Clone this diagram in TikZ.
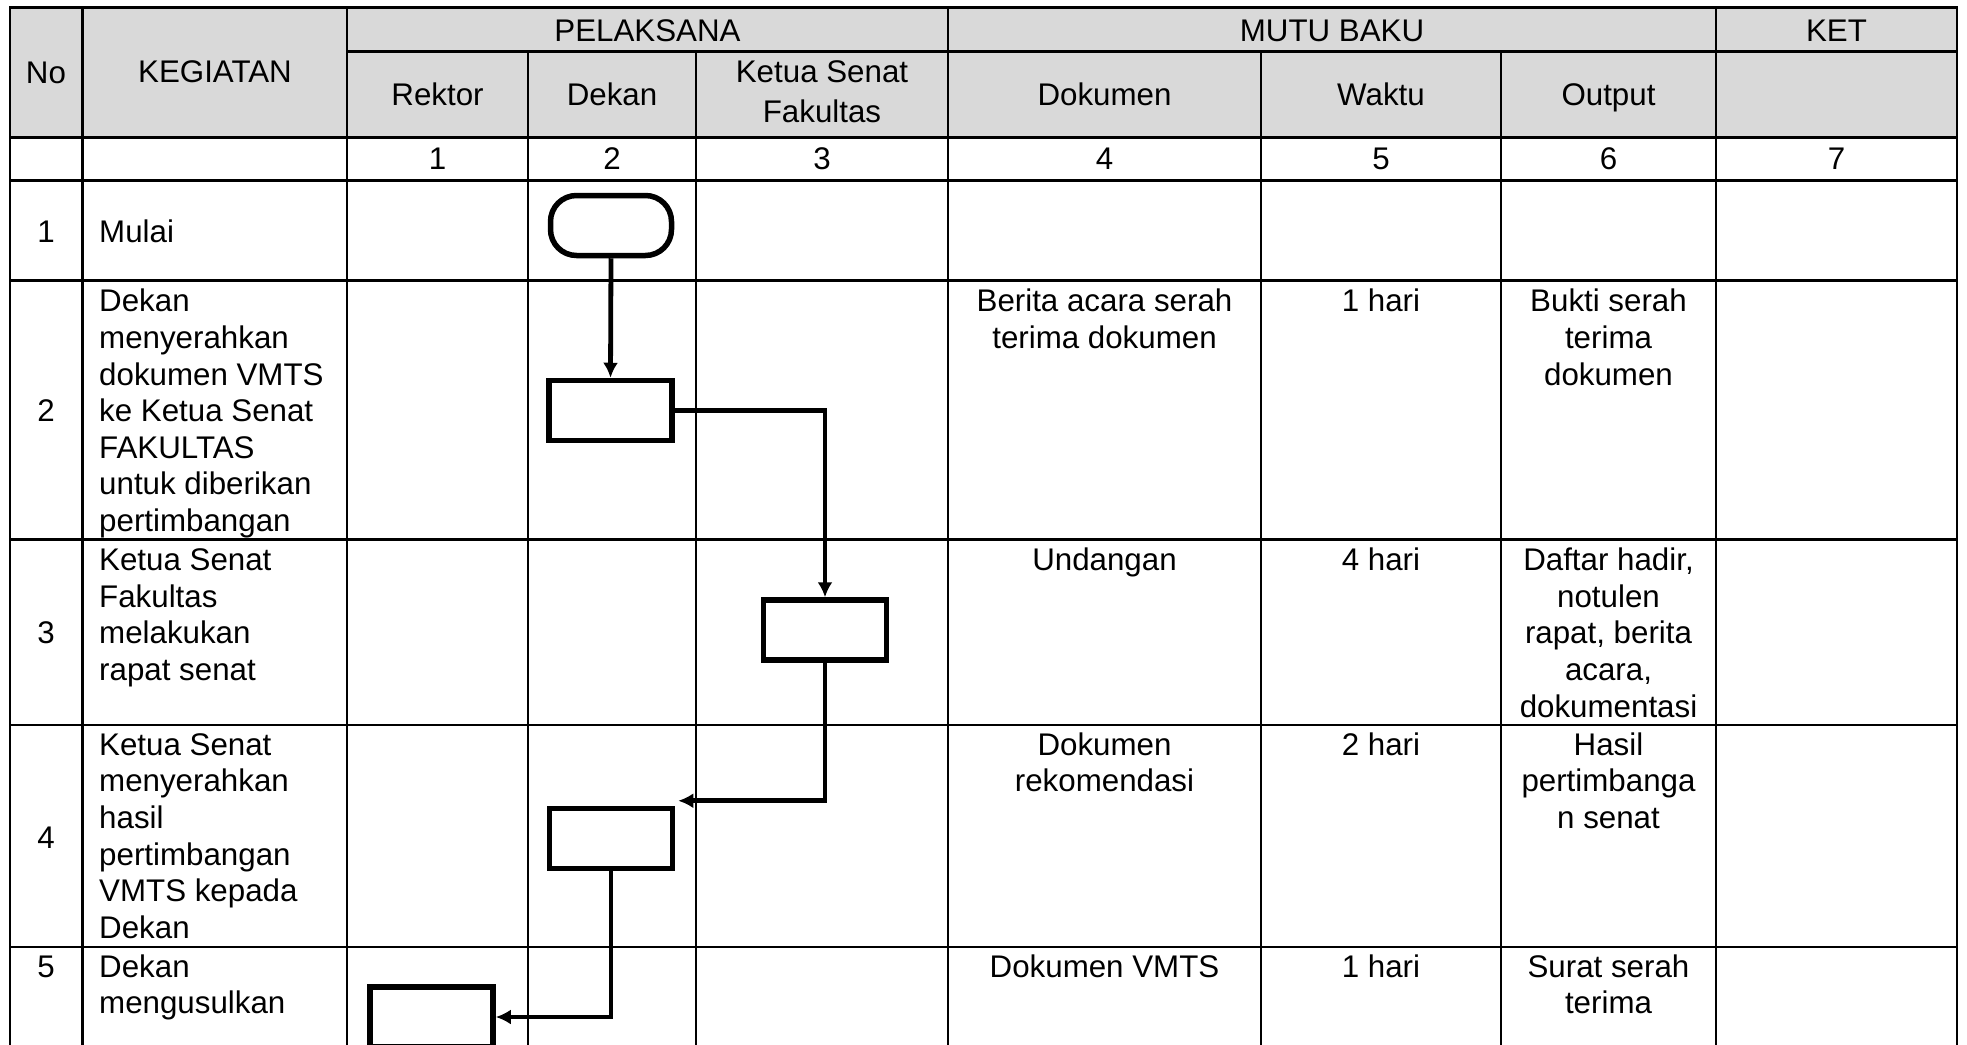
\documentclass[tikz,border=0pt]{standalone}
\usepackage{fontspec}
\setmainfont{Liberation Sans}
\usetikzlibrary{arrows.meta,calc}
\definecolor{hdrgray}{HTML}{D9D9D9}
\newcommand{\bodyfont}{\fontsize{31.3}{36.6}\selectfont}
\newcommand{\st}{\rule{0pt}{25pt}}
\begin{document}
\begin{tikzpicture}[x=1pt,y=-1pt,
  tline/.style={line width=2.6pt, line cap=rect},
  lbl/.style={inner sep=0pt, font=\bodyfont, anchor=base},
  lblw/.style={inner sep=0pt, font=\bodyfont, anchor=base west},
  multl/.style={inner sep=0pt, font=\bodyfont, anchor=north west, align=left},
  multc/.style={inner sep=0pt, font=\bodyfont, anchor=north, align=center},
  procbox/.style={draw, line width=5.5pt, minimum width=123pt, minimum height=60pt, inner sep=0pt},
  termbox/.style={procbox, rounded corners=26pt, minimum width=121pt},
  flow/.style={line width=4.8pt, -{Latex[length=15pt,width=15pt]}}
]
\useasboundingbox (0,0) rectangle (1967,1044);
\clip (0,0) rectangle (1967,1044);
\fill[white] (0,0) rectangle (1967,1044);
% header fill
\fill[hdrgray] (10,7.3) rectangle (1957,137.3);
% horizontal lines
\draw[tline] (10,7.3) -- (1957,7.3);
\draw[tline] (347,51.7) -- (1957,51.7);
\foreach \yy in {137.3,180.3,280.7,539.4,725,947}
  \draw[tline] (10,\yy) -- (1957,\yy);
% vertical lines
\foreach \xx in {10,82.5,347,948,1716,1957}
  \draw[tline] (\xx,7.3) -- (\xx,1050);
\foreach \xx in {528,696,1261,1501}
  \draw[tline] (\xx,51.7) -- (\xx,1050);

% header texts
\node[lbl] (hNo) at (46,83) {No};
\node[lbl] (hKeg) at (215,82) {KEGIATAN};
\node[lbl] (hPel) at (647.5,41) {PELAKSANA};
\node[lbl] (hMutu) at (1332,41) {MUTU BAKU};
\node[lbl] (hKet) at (1836.5,41) {KET};
\node[lbl] (hRek) at (437.5,105.5) {Rektor};
\node[lbl] (hDek) at (612,105.5) {Dekan};
\node[inner sep=0pt, font=\fontsize{31.3}{40}\selectfont, anchor=north, align=center] (hKS) at (822,57.7) {\st Ketua Senat\\Fakultas};
\node[lbl] (hDok) at (1104.5,105.5) {Dokumen};
\node[lbl] (hWak) at (1381,105.5) {Waktu};
\node[lbl] (hOut) at (1608.5,105.5) {Output};

% number row
\node[lbl] (c1) at (437.5,169) {1};
\node[lbl] (c2) at (612,169) {2};
\node[lbl] (c3) at (822,169) {3};
\node[lbl] (c4) at (1104.5,169) {4};
\node[lbl] (c5) at (1381,169) {5};
\node[lbl] (c6) at (1608.5,169) {6};
\node[lbl] (c7) at (1836.5,169) {7};

% row 1
\node[lbl] (no1) at (46,242) {1};
\node[lblw] (k1) at (99,242) {Mulai};

% row 2
\node[lbl] (no2) at (46,421) {2};
\node[multl] (k2) at (99,286.7) {\st Dekan\\menyerahkan\\dokumen VMTS\\ke Ketua Senat\\FAKULTAS\\untuk diberikan\\pertimbangan};
\node[multc] (d2) at (1104.5,286.7) {\st Berita acara serah\\terima dokumen};
\node[multc] (w2) at (1381,286.7) {\st 1 hari};
\node[multc] (o2) at (1608.5,286.7) {\st Bukti serah\\terima\\dokumen};

% row 3
\node[lbl] (no3) at (46,643) {3};
\node[multl] (k3) at (99,545.4) {\st Ketua Senat\\Fakultas\\melakukan\\rapat senat};
\node[multc] (d3) at (1104.5,545.4) {\st Undangan};
\node[multc] (w3) at (1381,545.4) {\st 4 hari};
\node[multc] (o3) at (1608.5,545.4) {\st Daftar hadir,\\notulen\\rapat, berita\\acara,\\dokumentasi};

% row 4
\node[lbl] (no4) at (46,848) {4};
\node[multl] (k4) at (99,730) {\st Ketua Senat\\menyerahkan\\hasil\\pertimbangan\\VMTS kepada\\Dekan};
\node[multc] (d4) at (1104.5,730) {\st Dokumen\\rekomendasi};
\node[multc] (w4) at (1381,730) {\st 2 hari};
\node[multc] (o4) at (1608.5,730) {\st Hasil\\pertimbanga\\n senat};

% row 5
\node[lbl] (no5) at (46,977) {5};
\node[multl] (k5) at (99,952) {\st Dekan\\mengusulkan};
\node[multc] (d5) at (1104.5,952) {\st Dokumen VMTS};
\node[multc] (w5) at (1381,952) {\st 1 hari};
\node[multc] (o5) at (1608.5,952) {\st Surat serah\\terima};

% flow shapes
\node[termbox] (t1) at (611,225.5) {};
\node[procbox] (b2) at (610.5,410.5) {};
\node[procbox] (b3) at (825,630) {};
\node[procbox] (b4) at (611,838.5) {};
\node[procbox] (b5) at (431.5,1017) {};
\coordinate (e4) at ($(b4.north east)+(3,-5)$);

% connectors
\draw[flow] (t1.south) -- (b2.north);
\draw[flow] (b2.east) -| (b3.north);
\draw[flow] (b3.south) |- (e4);
\draw[flow] (b4.south) |- (b5.east);
\end{tikzpicture}
\end{document}
